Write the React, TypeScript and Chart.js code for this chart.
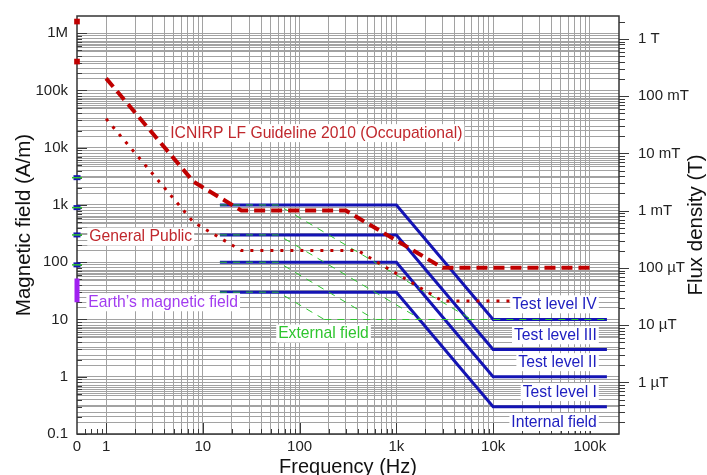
import React, { useEffect, useRef } from "react";
import { Chart, registerables } from "chart.js";
Chart.register(...registerables);

// ---------------- data ----------------
const MU0 = 4 * Math.PI * 1e-7;

const freqMin = 0.5; // drawn as "0" (DC)
const freqMax = 200000;
const hMin = 0.1;
const hMax = 2000000;

// ICNIRP 2010 occupational (dashed)
const occFreq = [1, 8, 25, 300, 3000, 100000];
const occH = [163000, 2550, 800, 800, 80, 80];
// ICNIRP 2010 general public (dotted)
const pubFreq = [1, 8, 25, 400, 3000, 100000];
const pubH = [32000, 500, 160, 160, 21, 21];

// test levels (internal field, blue)
const testFreq = [15, 1000, 10000, 150000];
const testLevelIV = [1000, 1000, 10, 10];
const testLevelIII = [300, 300, 3, 3];
const testLevelII = [100, 100, 1, 1];
const testLevelI = [30, 30, 0.3, 0.3];

// external field (green dashed)
const extFreqIV = [15, 60, 6000];
const extHIV = [1000, 1000, 10];
const extFreqIII = [15, 60, 1800];
const extHIII = [300, 300, 10];
const extFreqII = [15, 60, 600];
const extHII = [100, 100, 10];
const extFreqI = [15, 60, 180];
const extHI = [30, 30, 10];
const extFreqFlat = [180, 150000];
const extHFlat = [10, 10];

// DC (0 Hz) markers
const staticLimitsH = [1600000, 320000];
const dcTestH = [3000, 900, 300, 90];
const earthH = [20, 52];

// text labels (anchor in data coordinates)
const labels = [
  { text: "ICNIRP LF Guideline 2010 (Occupational)", f: 4.6, h: 18000, align: "left", color: "#c0282d" },
  { text: "General Public", f: 0.67, h: 280, align: "left", color: "#c0282d" },
  { text: "Earth\u2019s magnetic field", f: 0.655, h: 20, align: "left", color: "#a23cf0" },
  { text: "External field", f: 60, h: 5.7, align: "left", color: "#2fc52f" },
  { text: "Test level IV", f: 118000, h: 18.4, align: "right", color: "#2020c0" },
  { text: "Test level III", f: 118000, h: 5.3, align: "right", color: "#2020c0" },
  { text: "Test level II", f: 118000, h: 1.8, align: "right", color: "#2020c0" },
  { text: "Test level I", f: 118000, h: 0.54, align: "right", color: "#2020c0" },
  { text: "Internal field", f: 118000, h: 0.162, align: "right", color: "#2020c0" },
];

// ---------------- helpers ----------------
const FONT = "'Liberation Sans', Arial, sans-serif";

function decadeTicks(minExp: number, maxExp: number, lo: number, hi: number) {
  const out: number[] = [];
  for (let e = minExp; e <= maxExp; e++) {
    for (let k = 1; k <= 9; k++) {
      const v = Number((k * Math.pow(10, e)).toPrecision(6));
      if (v >= lo * (1 - 1e-9) && v <= hi * (1 + 1e-9)) out.push(v);
    }
  }
  return out;
}
const isPow10 = (v: number) => Math.abs(Math.log10(v) - Math.round(Math.log10(v))) < 1e-6;

function fmtSI(v: number) {
  const e = Math.round(Math.log10(v));
  if (e >= 6) return Math.pow(10, e - 6) + "M";
  if (e >= 3) return Math.pow(10, e - 3) + "k";
  if (e >= 0) return String(Math.pow(10, e));
  return String(Number(Math.pow(10, e).toPrecision(3)));
}
function fmtT(v: number) {
  const e = Math.round(Math.log10(v));
  if (e >= 0) return Math.pow(10, e) + " T";
  if (e >= -3) return Math.pow(10, e + 3) + " mT";
  return Math.pow(10, e + 6) + " \u00b5T";
}

const xTicks = decadeTicks(-1, 5, freqMin, 100000);
const yTicks = decadeTicks(-1, 6, hMin, 1000000);
const y2Ticks = decadeTicks(-7, 0, hMin * MU0, hMax * MU0);

const pts = (xs: number[], ys: number[]) => xs.map((x, i) => ({ x, y: ys[i] }));

const GRID = "#a2a2a2";
const BLUE = "#1414b4";
const RED = "#c00000";
const GREEN = "#2ec52e";

const blueLine = (label: string, ys: number[]) => ({
  label, data: pts(testFreq, ys), borderColor: BLUE, borderWidth: 3, pointRadius: 0,
});
const greenLine = (label: string, xs: number[], ys: number[]) => ({
  label, data: pts(xs, ys), borderColor: GREEN, borderWidth: 1, borderDash: [7, 6], pointRadius: 0,
});

const overlay = {
  id: "overlay",
  beforeDatasetsDraw(chart: any) {
    const { ctx, chartArea: a, scales } = chart;
    ctx.save();
    ctx.strokeStyle = "#3a3a3a";
    ctx.lineWidth = 1;
    // left ticks (inside)
    for (const v of yTicks) {
      const y = Math.round(scales.y.getPixelForValue(v)) + 0.5;
      const len = isPow10(v) ? 10 : 5;
      ctx.beginPath(); ctx.moveTo(a.left, y); ctx.lineTo(a.left + len, y); ctx.stroke();
    }
    // bottom ticks (inside)
    for (const v of xTicks) {
      if (v === freqMin) continue;
      const x = Math.round(scales.x.getPixelForValue(v)) + 0.5;
      const len = isPow10(v) ? 11 : 5;
      ctx.beginPath(); ctx.moveTo(x, a.bottom); ctx.lineTo(x, a.bottom - len); ctx.stroke();
    }
    // right ticks (outside)
    for (const v of y2Ticks) {
      const y = Math.round(scales.y2.getPixelForValue(v)) + 0.5;
      const len = isPow10(v) ? 10 : 6;
      ctx.beginPath(); ctx.moveTo(a.right, y); ctx.lineTo(a.right + len, y); ctx.stroke();
    }
    // frame
    ctx.lineWidth = 1.5;
    ctx.strokeStyle = "#333";
    ctx.strokeRect(a.left, a.top, a.right - a.left, a.bottom - a.top);
    ctx.restore();
  },
  afterDatasetsDraw(chart: any) {
    const { ctx, scales } = chart;
    ctx.save();
    ctx.font = `15.7px ${FONT}`;
    ctx.textBaseline = "middle";
    for (const lb of labels) {
      const x = scales.x.getPixelForValue(lb.f);
      const y = scales.y.getPixelForValue(lb.h);
      const w = ctx.measureText(lb.text).width;
      const x0 = lb.align === "right" ? x - w : x;
      ctx.fillStyle = "#fff";
      ctx.fillRect(x0 - 2, y - 9, w + 4, 18);
      ctx.fillStyle = lb.color;
      ctx.textAlign = "left";
      ctx.fillText(lb.text, x0, y + 0.5);
    }
    ctx.restore();
  },
  afterDraw(chart: any) {
    const { ctx, chartArea: a } = chart;
    ctx.save();
    ctx.fillStyle = "#111";
    ctx.textAlign = "center";
    ctx.textBaseline = "middle";
    const cy = (a.top + a.bottom) / 2;
    ctx.font = `20px ${FONT}`;
    ctx.fillText("Frequency (Hz)", (a.left + a.right) / 2, chart.height - 8);
    ctx.font = `20.5px ${FONT}`;
    ctx.save();
    ctx.translate(24, cy);
    ctx.rotate(-Math.PI / 2);
    ctx.fillText("Magnetic field (A/m)", 0, 0);
    ctx.restore();
    ctx.save();
    ctx.translate(chart.width - 11, cy);
    ctx.rotate(-Math.PI / 2);
    ctx.fillText("Flux density (T)", 0, 0);
    ctx.restore();
    ctx.restore();
  },
};

export default function App() {
  const ref = useRef<HTMLCanvasElement>(null);
  useEffect(() => {
    const datasets: any[] = [
      {
        label: "Static limits", data: staticLimitsH.map((h) => ({ x: freqMin, y: h })),
        showLine: false, pointStyle: "rect", pointRadius: 4, pointBorderWidth: 0,
        pointBackgroundColor: RED, pointBorderColor: RED, clip: false,
      },
      {
        label: "Earth", data: earthH.map((h) => ({ x: freqMin, y: h })),
        borderColor: "#a020f0", borderWidth: 5, pointRadius: 0, clip: false, borderCapStyle: "butt",
      },
      {
        label: "DC ext", data: dcTestH.map((h) => ({ x: freqMin, y: h })),
        showLine: false, pointStyle: "line", pointRadius: 5, pointBorderWidth: 1.5,
        pointBorderColor: GREEN, pointBackgroundColor: GREEN, clip: false,
      },
      {
        label: "DC test", data: dcTestH.map((h) => ({ x: freqMin, y: h })),
        showLine: false, pointStyle: "line", pointRadius: 3.5, pointBorderWidth: 5,
        pointBorderColor: BLUE, pointBackgroundColor: BLUE, clip: false,
      },
      {
        label: "General public", data: pts(pubFreq, pubH), borderColor: RED, borderWidth: 3,
        borderDash: [3, 7], pointRadius: 0,
      },
      {
        label: "Occupational", data: pts(occFreq, occH), borderColor: RED, borderWidth: 4,
        borderDash: [11, 6], pointRadius: 0,
      },
      greenLine("Ext IV", extFreqIV, extHIV),
      greenLine("Ext III", extFreqIII, extHIII),
      greenLine("Ext II", extFreqII, extHII),
      greenLine("Ext I", extFreqI, extHI),
      greenLine("Ext", extFreqFlat, extHFlat),
      blueLine("Test level IV", testLevelIV),
      blueLine("Test level III", testLevelIII),
      blueLine("Test level II", testLevelII),
      blueLine("Test level I", testLevelI),
    ];
    const tickFont = { family: FONT, size: 15 };
    const chart = new Chart(ref.current!, {
      type: "line",
      data: { datasets },
      plugins: [overlay],
      options: {
        responsive: false,
        animation: false,
        devicePixelRatio: 1,
        layout: { padding: { top: 16, left: 0, right: 0, bottom: 0 } },
        plugins: { legend: { display: false }, tooltip: { enabled: false } },
        elements: { line: { tension: 0, fill: false } },
        scales: {
          x: {
            type: "logarithmic", min: freqMin, max: freqMax, bounds: "data",
            afterBuildTicks: (s: any) => { s.ticks = xTicks.map((v) => ({ value: v })); },
            afterFit: (s: any) => { s.height = 41; s.paddingLeft = 0; s.paddingRight = 0; },
            border: { display: false },
            grid: {
              drawTicks: false,
              color: (c: any) => (c.tick && c.tick.value >= 1 && c.tick.value <= 100000 ? GRID : "rgba(0,0,0,0)"),
              lineWidth: 1,
            },
            ticks: {
              autoSkip: false, maxRotation: 0, padding: 4, color: "#222", font: tickFont,
              callback: (v: any) => {
                const n = Number(v);
                if (n === freqMin) return "0";
                return isPow10(n) ? fmtSI(n) : "";
              },
            },
          },
          y: {
            type: "logarithmic", position: "left", min: hMin, max: hMax, bounds: "data",
            afterBuildTicks: (s: any) => { s.ticks = yTicks.map((v) => ({ value: v })); },
            afterFit: (s: any) => { s.width = 77; s.paddingTop = 0; s.paddingBottom = 0; },
            border: { display: false },
            grid: { drawTicks: false, color: GRID, lineWidth: 1 },
            ticks: {
              autoSkip: false, padding: 9, color: "#222", font: tickFont,
              callback: (v: any) => (isPow10(Number(v)) ? fmtSI(Number(v)) : ""),
            },
          },
          y2: {
            type: "logarithmic", position: "right", display: true,
            min: hMin * MU0, max: hMax * MU0, bounds: "data",
            afterBuildTicks: (s: any) => { s.ticks = y2Ticks.map((v) => ({ value: v })); },
            afterFit: (s: any) => { s.width = 88; s.paddingTop = 0; s.paddingBottom = 0; },
            border: { display: false },
            grid: {
              drawTicks: false, lineWidth: 1,
              color: (c: any) => (c.tick && c.tick.value <= 1.0000001 ? GRID : "rgba(0,0,0,0)"),
            },
            ticks: {
              autoSkip: false, padding: 19, color: "#222", font: tickFont,
              callback: (v: any) => (isPow10(Number(v)) ? fmtT(Number(v)) : ""),
            },
          },
        },
      } as any,
    });
    return () => chart.destroy();
  }, []);
  return (
    <div style={{ position: "fixed", left: 0, top: 0, width: 707, height: 475, background: "#fff" }}>
      <canvas ref={ref} width={707} height={475} style={{ width: 707, height: 475, display: "block" }} />
    </div>
  );
}
